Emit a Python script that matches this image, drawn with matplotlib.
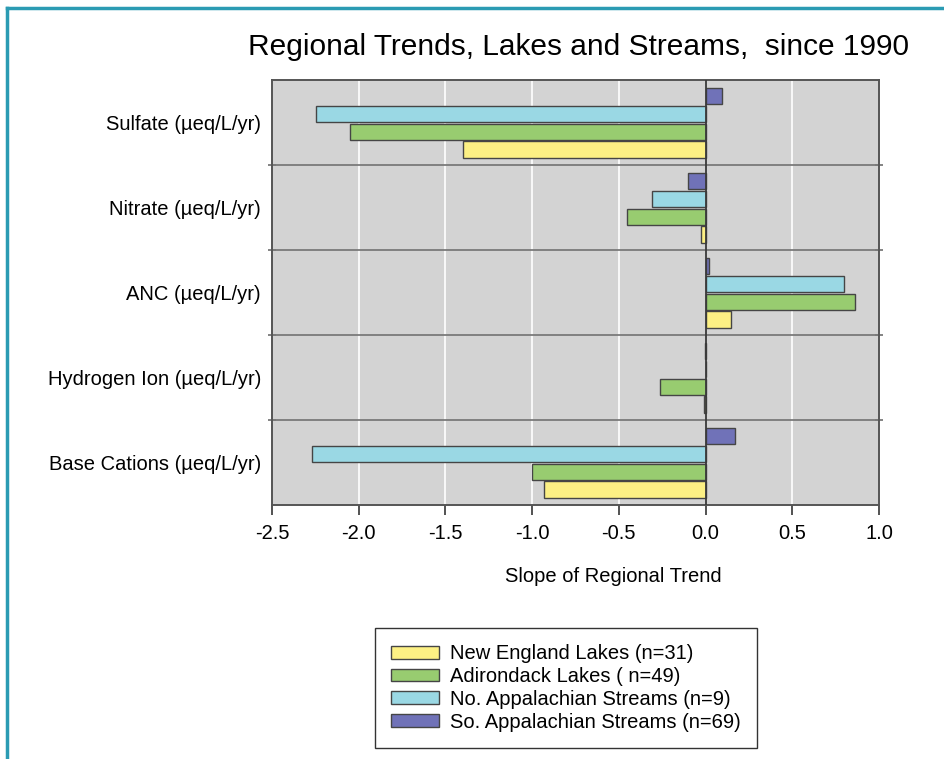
import matplotlib.pyplot as plt
import numpy as np
from matplotlib.lines import Line2D

plt.rcParams['font.family'] = ['Liberation Sans', 'DejaVu Sans']

# categories, top to bottom
categories = ["Sulfate (\u00b5eq/L/yr)", "Nitrate (\u00b5eq/L/yr)", "ANC (\u00b5eq/L/yr)",
              "Hydrogen Ion (\u00b5eq/L/yr)", "Base Cations (\u00b5eq/L/yr)"]

series_names = ["New England Lakes (n=31)", "Adirondack Lakes ( n=49)",
                "No. Appalachian Streams (n=9)", "So. Appalachian Streams (n=69)"]

new_england = [-1.40, -0.026, 0.148, -0.010, -0.93]
adirondack = [-2.05, -0.455, 0.86, -0.264, -1.00]
no_appalachian = [-2.245, -0.31, 0.80, 0.004, -2.27]
so_appalachian = [0.094, -0.10, 0.019, -0.004, 0.169]

colors = ["#fcf084", "#98cc70", "#9ad8e4", "#7072b8"]

fig = plt.figure(figsize=(9.44, 7.59), dpi=100)
ax = fig.add_axes([272/944, 1-505/759, (879-272)/944, (505-80)/759])
ax.set_facecolor("#d3d3d3")

y = np.arange(len(categories))[::-1]  # Sulfate at top
offsets = [-0.32, -0.11, 0.10, 0.31]
all_series = [new_england, adirondack, no_appalachian, so_appalachian]
for vals, off, col, name in zip(all_series, offsets, colors, series_names):
    ax.barh(y + off, vals, height=0.195, color=col, edgecolor="#454545",
            linewidth=1.0, label=name, zorder=3)

ax.set_xlim(-2.5, 1.0)
ax.set_ylim(-0.5, 4.5)

# white vertical grid
for gx in [-2.0, -1.5, -1.0, -0.5, 0.5]:
    ax.axvline(gx, color="white", linewidth=1.2, zorder=1)
ax.axvline(0, color="#3a3a3a", linewidth=1.3, zorder=4)

# separators between categories
for sy in [0.5, 1.5, 2.5, 3.5]:
    ax.axhline(sy, color="#7a7a7a", linewidth=1.3, zorder=2)

ax.set_xticks([-2.5, -2.0, -1.5, -1.0, -0.5, 0.0, 0.5, 1.0])
ax.set_xticklabels(["-2.5", "-2.0", "-1.5", "-1.0", "-0.5", "0.0", "0.5", "1.0"], fontsize=14.5)
ax.tick_params(axis="x", direction="out", length=7, width=1.3, color="#444444", pad=7)

ax.set_yticks(y)
ax.set_yticklabels(categories, fontsize=14.5)
ax.tick_params(axis="y", which="major", length=0, pad=8)
ax.set_yticks([0.5, 1.5, 2.5, 3.5], minor=True)
ax.tick_params(axis="y", which="minor", direction="inout", length=6, width=1.3,
               color="#7a7a7a", left=True, right=True)

for sp in ax.spines.values():
    sp.set_color("#555555")
    sp.set_linewidth(1.4)

fig.text(579/944, 1-47/759, "Regional Trends, Lakes and Streams,  since 1990",
         ha="center", va="center", fontsize=21.5)
fig.text(613/944, 1-577/759, "Slope of Regional Trend", ha="center", va="center",
         fontsize=14.5)

leg = fig.legend(loc="center", bbox_to_anchor=(566/944, 1-688/759), fontsize=14.5,
                 frameon=True, fancybox=False, edgecolor="#333333", framealpha=1,
                 handlelength=2.35, handleheight=0.6, borderpad=0.8, labelspacing=0.19,
                 handletextpad=0.55, borderaxespad=0)
leg.get_frame().set_linewidth(1.0)

# teal frame around the figure (top and left)
fig.add_artist(Line2D([7/944, 1.0], [1-8/759, 1-8/759], transform=fig.transFigure,
                      color="#2b9bb3", linewidth=2.5))
fig.add_artist(Line2D([7/944, 7/944], [0, 1-8/759], transform=fig.transFigure,
                      color="#2b9bb3", linewidth=2.5))

fig.savefig("out.png", dpi=100)
